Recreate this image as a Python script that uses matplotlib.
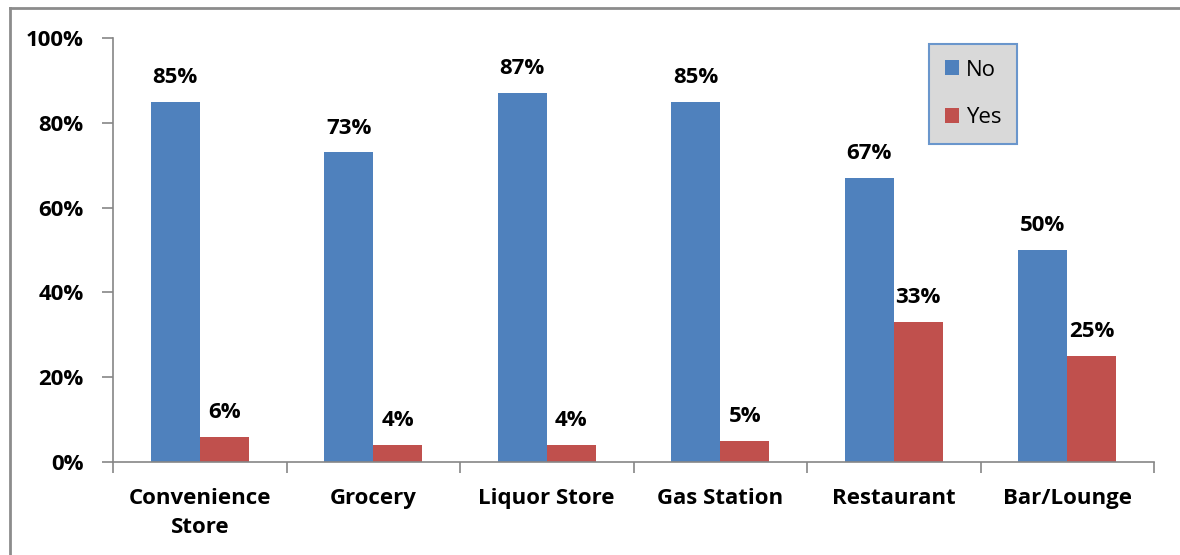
import matplotlib
matplotlib.use("Agg")
import matplotlib.pyplot as plt
import numpy as np
from matplotlib.lines import Line2D
from matplotlib.ticker import PercentFormatter

categories = ["Convenience\nStore", "Grocery", "Liquor Store", "Gas Station", "Restaurant", "Bar/Lounge"]
no_values = [85, 73, 87, 85, 67, 50]
yes_values = [6, 4, 4, 5, 33, 25]
series_names = ["No", "Yes"]
y_ticks = [0, 20, 40, 60, 80, 100]

BLUE = "#4F81BD"
RED = "#C0504D"
AXIS_GRAY = "#868686"

plt.rcParams["font.family"] = ["Open Sans", "DejaVu Sans"]
FS = 16

W, H = 1180, 555
fig = plt.figure(figsize=(W / 100, H / 100), dpi=100)
ax = fig.add_axes([113 / W, 1 - 462 / H, (1154 - 113) / W, (462 - 38) / H])

x = np.arange(len(categories))
bw = 0.283
bars_no = ax.bar(x - bw / 2, no_values, bw, color=BLUE, label=series_names[0])
bars_yes = ax.bar(x + bw / 2, yes_values, bw, color=RED, label=series_names[1])

for bars, vals in ((bars_no, no_values), (bars_yes, yes_values)):
    for b, v in zip(bars, vals):
        ax.annotate(f"{v}%", (b.get_x() + b.get_width() / 2, v),
                    xytext=(0, 10), textcoords="offset points",
                    ha="center", va="bottom", fontsize=FS, fontweight="bold")

ax.set_xlim(-0.5, len(categories) - 0.5)
ax.set_ylim(0, 100)
ax.set_yticks(y_ticks)
ax.yaxis.set_major_formatter(PercentFormatter(decimals=0))
ax.set_xticks(x)
ax.set_xticklabels(categories, fontsize=FS, fontweight="bold", linespacing=1.5)
ax.set_xticks(np.arange(len(categories) + 1) - 0.5, minor=True)
ax.tick_params(axis="x", which="major", length=0, pad=19)
ax.tick_params(axis="x", which="minor", length=8, color=AXIS_GRAY, width=1.2)
ax.tick_params(axis="y", length=8, color=AXIS_GRAY, width=1.2, pad=13)
for lbl in ax.get_yticklabels():
    lbl.set_fontsize(FS)
    lbl.set_fontweight("bold")

for side in ("top", "right"):
    ax.spines[side].set_visible(False)
for side in ("left", "bottom"):
    ax.spines[side].set_color(AXIS_GRAY)
    ax.spines[side].set_linewidth(1.2)

leg = ax.legend(loc="upper left", bbox_to_anchor=((929 - 113) / (1154 - 113), (462 - 44) / (462 - 38)),
                fontsize=FS, frameon=True, fancybox=False, handlelength=0.65, handleheight=0.65,
                labelspacing=1.2, borderpad=0.7, borderaxespad=0, handletextpad=0.3)
leg.get_frame().set_facecolor("#D9D9D9")
leg.get_frame().set_edgecolor("#6A96CC")
leg.get_frame().set_linewidth(1.5)
leg.get_frame().set_alpha(1)

# outer chart border (top and left edges)
fig.add_artist(Line2D([10 / W, 1], [1 - 8 / H, 1 - 8 / H], color="#8C8C8C", lw=2, transform=fig.transFigure))
fig.add_artist(Line2D([10 / W, 10 / W], [0, 1 - 8 / H], color="#8C8C8C", lw=2, transform=fig.transFigure))

fig.savefig("out.png", dpi=100)
